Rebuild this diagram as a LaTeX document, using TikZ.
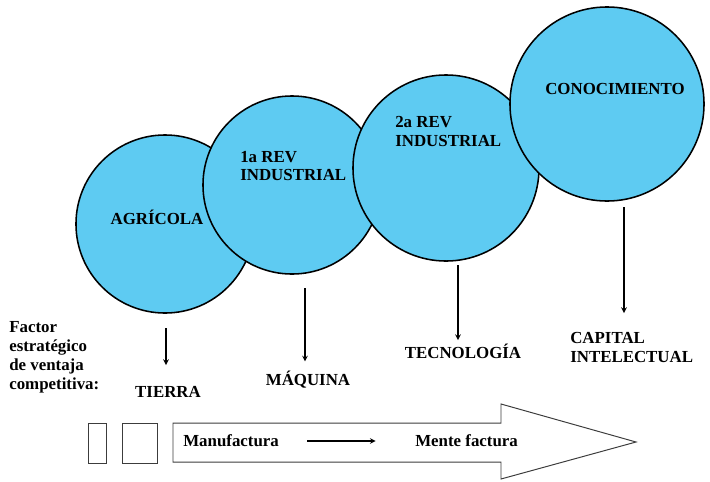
\documentclass[tikz,border=0pt]{standalone}
\usepackage{fontspec}
\setmainfont{Liberation Serif}
\usetikzlibrary{arrows,positioning}
\definecolor{eracyan}{RGB}{94,203,242}
\definecolor{boxgray}{RGB}{60,60,60}
\tikzstyle{arrow} = [thick,->,>=stealth]
\tikzstyle{era} = [circle, draw=black, fill=eracyan, line width=1.1pt, inner sep=0pt, outer sep=0pt]
\tikzstyle{tag} = [inner sep=0pt, align=left, font=\bfseries\fontsize{12}{13.5}\selectfont]
\tikzstyle{factor} = [tag, text height=8pt, text depth=0pt]

\begin{document}
\begin{tikzpicture}[x=0.025cm, y=-0.025cm]
\useasboundingbox (0,0) rectangle (710,481);

% Eras
\node[era, minimum size=4.45cm] (agri) at (165,224) {};
\node[era, minimum size=4.45cm] (rev1) at (292,185) {};
\node[era, minimum size=4.65cm] (rev2) at (446,168) {};
\node[era, minimum size=4.85cm] (cono) at (607,104) {};

\node[tag] (agritxt) at (157,217) {AGRÍCOLA};
\node[tag, anchor=west] (rev1txt) at (240,166) {1a REV\\INDUSTRIAL};
\node[tag, anchor=west] (rev2txt) at (395,131) {2a REV\\INDUSTRIAL};
\node[tag] (conotxt) at (615,89) {CONOCIMIENTO};

% Factors
\node[tag, anchor=west] (factor) at (9,357) {Factor\\estratégico\\de ventaja\\competitiva:};
\node[factor] (tierra) at (168,392) {TIERRA};
\node[factor] (maquina) at (308,380) {MÁQUINA};
\node[factor] (tecno) at (463,353) {TECNOLOGÍA};
\node[tag, anchor=north west] (capital) at (570,332) {CAPITAL\\INTELECTUAL};

\coordinate (p1) at (166,328);
\coordinate (p2) at (305,288);
\coordinate (p3) at (458,265);
\coordinate (p4) at (624,207);

\draw[arrow, shorten >=15pt] (p1) -- (p1 |- tierra.north);
\draw[arrow, shorten >=9pt] (p2) -- (p2 |- maquina.north);
\draw[arrow, shorten >=5pt] (p3) -- (p3 |- tecno.north);
\draw[arrow, shorten >=13.5pt] (p4) -- (p4 |- capital.north);

% Shift arrow
\draw[boxgray, line width=0.7pt] (88,423) rectangle (106,463);
\draw[boxgray, line width=0.7pt] (122,423) rectangle (157,463);
\draw[boxgray, line width=0.7pt] (173,423) -- (501,423) -- (501,404) -- (636,442)
  -- (501,479) -- (501,462) -- (173,462) -- cycle;

\node[tag, anchor=west] (manu) at (183,441) {Manufactura};
\node[tag, anchor=west] (mente) at (415,441) {Mente factura};
\draw[arrow, shorten <=20pt, shorten >=28pt] (manu) -- (mente);

\end{tikzpicture}
\end{document}
